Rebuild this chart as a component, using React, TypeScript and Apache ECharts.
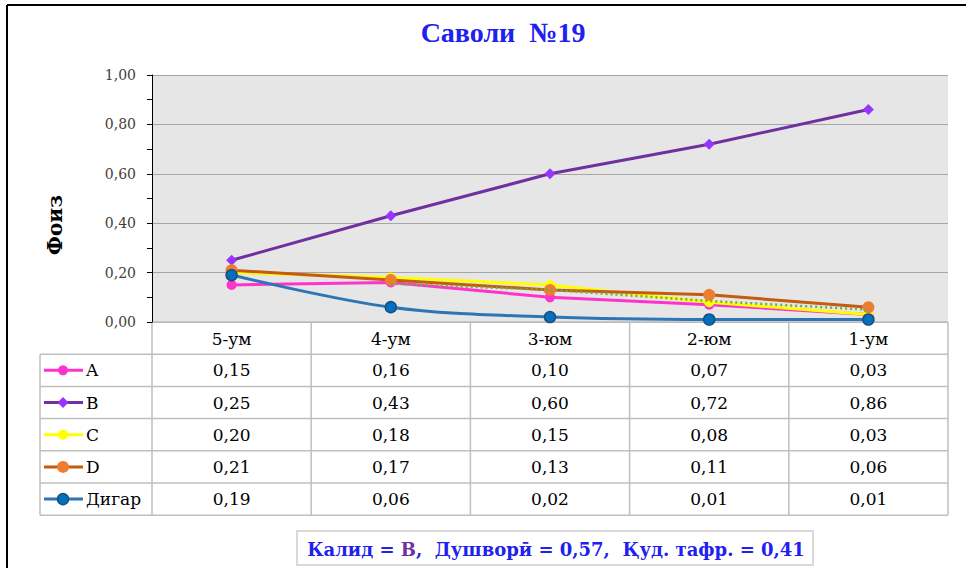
import React, { useEffect, useRef } from "react";
import * as echarts from "echarts";

const categories = ["5-ум", "4-ум", "3-юм", "2-юм", "1-ум"];
const seriesNames = ["A", "B", "C", "D", "Дигар"];
const valuesA = [0.15, 0.16, 0.1, 0.07, 0.03];
const valuesB = [0.25, 0.43, 0.6, 0.72, 0.86];
const valuesC = [0.2, 0.18, 0.15, 0.08, 0.03];
const valuesD = [0.21, 0.17, 0.13, 0.11, 0.06];
const valuesOther = [0.19, 0.06, 0.02, 0.01, 0.01];
const trendA: (number | null)[] = [null, 0.155, 0.13, 0.085, 0.05];
const titleText = "Саволи  №19";
const yName = "Фоиз";

const W = 966;
const H = 568;
const GL = 152;
const GR = 948;
const GT = 75;
const GB = 322;
const ROW_H = 32.2;
const TABLE_L = 40;

const SERIF = "DejaVu Serif";
const TIMES = "Liberation Serif";

const styles = [
  { line: "#ff33cc", fill: "#ff33cc", border: "#ff33cc", symbol: "circle", size: 10 },
  { line: "#7030a0", fill: "#9933ff", border: "#9933ff", symbol: "diamond", size: 11 },
  { line: "#ffff00", fill: "#ffff00", border: "#ffff00", symbol: "circle", size: 10 },
  { line: "#c55a11", fill: "#ed7d31", border: "#ed7d31", symbol: "circle", size: 12 },
  { line: "#2e75b6", fill: "#0070c0", border: "#1f4e79", symbol: "circle", size: 11 },
];

const fmt = (v: number) => v.toFixed(2).replace(".", ",");

export default function App() {
  const ref = useRef<HTMLDivElement>(null);
  useEffect(() => {
    if (!ref.current) return;
    const chart = echarts.init(ref.current, undefined, { renderer: "svg" });
    const data = [valuesA, valuesB, valuesC, valuesD, valuesOther];

    const series: any[] = data.map((vals, i) => ({
      name: seriesNames[i],
      type: "line",
      data: vals,
      smooth: i === 4 ? 0.35 : false,
      symbol: styles[i].symbol,
      symbolSize: styles[i].size,
      lineStyle: { color: styles[i].line, width: 3 },
      itemStyle: {
        color: styles[i].fill,
        borderColor: styles[i].border,
        borderWidth: i === 4 ? 1.5 : 0,
      },
      z: 2 + i,
    }));
    series.push({
      name: "trend",
      type: "line",
      data: trendA,
      showSymbol: false,
      symbol: "none",
      lineStyle: { color: "#70ad47", width: 2.5, type: [2, 3] },
      z: 10,
    });

    chart.setOption({
      animation: false,
      backgroundColor: "#ffffff",
      grid: {
        left: GL,
        right: W - GR,
        top: GT,
        bottom: H - GB,
        show: true,
        backgroundColor: "#e6e6e6",
        borderWidth: 0,
      },
      xAxis: {
        type: "category",
        data: categories,
        boundaryGap: true,
        axisLabel: { show: false },
        axisTick: { show: false },
        axisLine: { show: false },
      },
      yAxis: {
        type: "value",
        min: 0,
        max: 1,
        interval: 0.2,
        axisLine: { show: true, lineStyle: { color: "#000", width: 1 } },
        axisTick: { show: true, length: 5, lineStyle: { color: "#000" } },
        minorTick: { show: true, splitNumber: 2, length: 5, lineStyle: { color: "#000" } },
        splitLine: { show: true, lineStyle: { color: "#a6a6a6", width: 1 } },
        axisLabel: {
          formatter: (v: number) => fmt(v),
          fontFamily: SERIF,
          fontSize: 14,
          color: "#404040",
          margin: 16,
        },
      },
      series,
    });

    const c0 = chart.convertToPixel({ xAxisIndex: 0 }, 0) as number;
    const c1 = chart.convertToPixel({ xAxisIndex: 0 }, 1) as number;
    const band = c1 - c0;
    const centers = categories.map((_, i) => chart.convertToPixel({ xAxisIndex: 0 }, i) as number);

    const g: any[] = [];
    const lineColor = "#bfbfbf";
    const tableBottom = GB + ROW_H * 6;
    g.push({
      type: "text",
      x: 503,
      y: 32,
      style: { text: titleText, fontFamily: TIMES, fontSize: 28, fontWeight: "bold", fill: "#2020f0", align: "center", verticalAlign: "middle" },
    });
    g.push({ type: "line", shape: { x1: GL, y1: GB, x2: GR, y2: GB }, style: { stroke: lineColor, lineWidth: 1.5 } });
    for (let r = 1; r <= 6; r++) {
      const y = GB + ROW_H * r;
      g.push({ type: "line", shape: { x1: TABLE_L, y1: y, x2: GR, y2: y }, style: { stroke: lineColor, lineWidth: 1.5 } });
    }
    g.push({ type: "line", shape: { x1: TABLE_L, y1: GB + ROW_H, x2: TABLE_L, y2: tableBottom }, style: { stroke: lineColor, lineWidth: 1.5 } });
    for (let i = 0; i <= categories.length; i++) {
      const x = c0 - band / 2 + band * i;
      g.push({ type: "line", shape: { x1: x, y1: GB, x2: x, y2: tableBottom }, style: { stroke: lineColor, lineWidth: 1.5 } });
    }
    categories.forEach((cat, i) => {
      g.push({
        type: "text",
        x: centers[i],
        y: GB + ROW_H / 2 + 1,
        style: { text: cat, fontFamily: SERIF, fontSize: 17, fill: "#000", align: "center", verticalAlign: "middle" },
      });
    });
    data.forEach((vals, r) => {
      const yc = GB + ROW_H * (r + 1) + ROW_H / 2;
      g.push({ type: "line", shape: { x1: 44, y1: yc, x2: 83, y2: yc }, style: { stroke: styles[r].line, lineWidth: 3 } });
      if (styles[r].symbol === "diamond") {
        g.push({
          type: "polygon",
          shape: { points: [[63, yc - 5.5], [68.5, yc], [63, yc + 5.5], [57.5, yc]] },
          style: { fill: styles[r].fill },
        });
      } else {
        g.push({
          type: "circle",
          shape: { cx: 63, cy: yc, r: styles[r].size / 2 },
          style: { fill: styles[r].fill, stroke: styles[r].border, lineWidth: r === 4 ? 1.5 : 0 },
        });
      }
      g.push({
        type: "text",
        x: 86,
        y: yc,
        style: { text: seriesNames[r], fontFamily: SERIF, fontSize: 17, fill: "#000", align: "left", verticalAlign: "middle" },
      });
      vals.forEach((v, i) => {
        g.push({
          type: "text",
          x: centers[i],
          y: yc,
          style: { text: fmt(v), fontFamily: SERIF, fontSize: 17, fill: "#000", align: "center", verticalAlign: "middle" },
        });
      });
    });
    g.push({
      type: "text",
      x: 55,
      y: 225,
      rotation: Math.PI / 2,
      style: { text: yName, fontFamily: SERIF, fontSize: 20, fontWeight: "bold", fill: "#000", align: "center", verticalAlign: "middle" },
    });
    g.push({ type: "line", shape: { x1: 7, y1: 5, x2: W, y2: 5 }, style: { stroke: "#000", lineWidth: 2 } });
    g.push({ type: "line", shape: { x1: 7, y1: 5, x2: 7, y2: H }, style: { stroke: "#000", lineWidth: 2 } });
    g.push({
      type: "rect",
      shape: { x: 297, y: 531, width: 516, height: 34 },
      style: { fill: "#fff", stroke: "#d9d9d9", lineWidth: 2 },
    });
    g.push({
      type: "text",
      x: 556,
      y: 549,
      style: {
        text: "{b|Калид = }{p|В}{b|,  Душворӣ = 0,57,  Қуд. тафр. = 0,41}",
        align: "center",
        verticalAlign: "middle",
        rich: {
          b: { fontFamily: SERIF, fontSize: 18, fontWeight: "bold", fill: "#2020f0" },
          p: { fontFamily: SERIF, fontSize: 18, fontWeight: "bold", fill: "#7030a0" },
        },
      },
    });

    chart.setOption({ graphic: { elements: g } });

    return () => chart.dispose();
  }, []);

  return (
    <div
      ref={ref}
      style={{ position: "fixed", left: 0, top: 0, width: W, height: H }}
    />
  );
}
